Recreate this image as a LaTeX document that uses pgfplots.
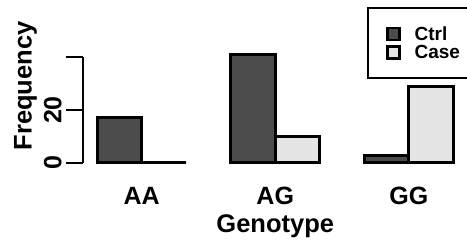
\documentclass[border=0pt]{standalone}
\usepackage{pgfplots}
\pgfplotsset{compat=1.18}
\usepackage{fontspec}
\setmainfont{Liberation Sans}
\definecolor{ctrlc}{gray}{0.3}
\definecolor{casec}{gray}{0.9}
\begin{document}
\begin{tikzpicture}
\useasboundingbox (0,0) rectangle (467pt,243pt);
\begin{axis}[
  at={(83pt,80pt)}, anchor=south west,
  scale only axis, width=384.5pt, height=106pt,
  xmin=0.68, xmax=9.32, ymin=0, ymax=40,
  clip=false,
  axis y line*=left, axis x line*=bottom,
  x axis line style={draw=none},
  y axis line style={line width=1.5pt},
  ytick={0,20,40}, yticklabels={0,20,{}},
  xtick={2,5,8}, xticklabels={AA,AG,GG},
  tick align=outside, major tick length=16.7pt,
  xtick style={draw=none},
  ytick style={line width=1.5pt, black},
  /pgf/number format/assume math mode=true,
  tick label style={font=\fontsize{25}{30}\selectfont\bfseries},
  label style={font=\fontsize{25.5}{30}\selectfont\bfseries},
  xticklabel style={anchor=base, yshift=-25.3pt, inner sep=0pt},
  yticklabel style={rotate=90, anchor=base, yshift=5pt, inner sep=0pt},
  xlabel={Genotype}, ylabel={Frequency},
  xlabel style={at={(axis description cs:0.5,-0.660)}, anchor=base, inner sep=0pt},
  ylabel style={at={(axis description cs:-0.1334,0.7264)}, anchor=base, inner sep=0pt},
  legend style={at={(axis description cs:0.7394,1.469)}, anchor=north west,
    draw=black, line width=2.2pt, font=\fontsize{19}{22}\selectfont\bfseries,
    inner xsep=9.5pt, inner ysep=18pt, row sep=3.3pt,
    nodes={inner sep=0pt}, column sep=14pt},
  legend cell align=left,
]
\addplot[ybar, bar width=1, bar shift=0pt, fill=ctrlc, draw=black, line width=3pt,
  legend image code/.code={\path[draw=none,fill=none] (-9.5pt,0pt) -- (0pt,0pt); \draw[fill=ctrlc,draw=black,line width=2.5pt] (0pt,-6pt) rectangle (12pt,6pt);}]
  coordinates {(1.5,17) (4.5,41) (7.5,3)};
\addlegendentry{Ctrl}
\addplot[ybar, bar width=1, bar shift=0pt, fill=casec, draw=black, line width=3pt,
  legend image code/.code={\path[draw=none,fill=none] (-9.5pt,0pt) -- (0pt,0pt); \draw[fill=casec,draw=black,line width=2.5pt] (0pt,-6pt) rectangle (12pt,6pt);}]
  coordinates {(2.5,0) (5.5,10) (8.5,29)};
\addlegendentry{Case}
\end{axis}
\end{tikzpicture}
\end{document}
